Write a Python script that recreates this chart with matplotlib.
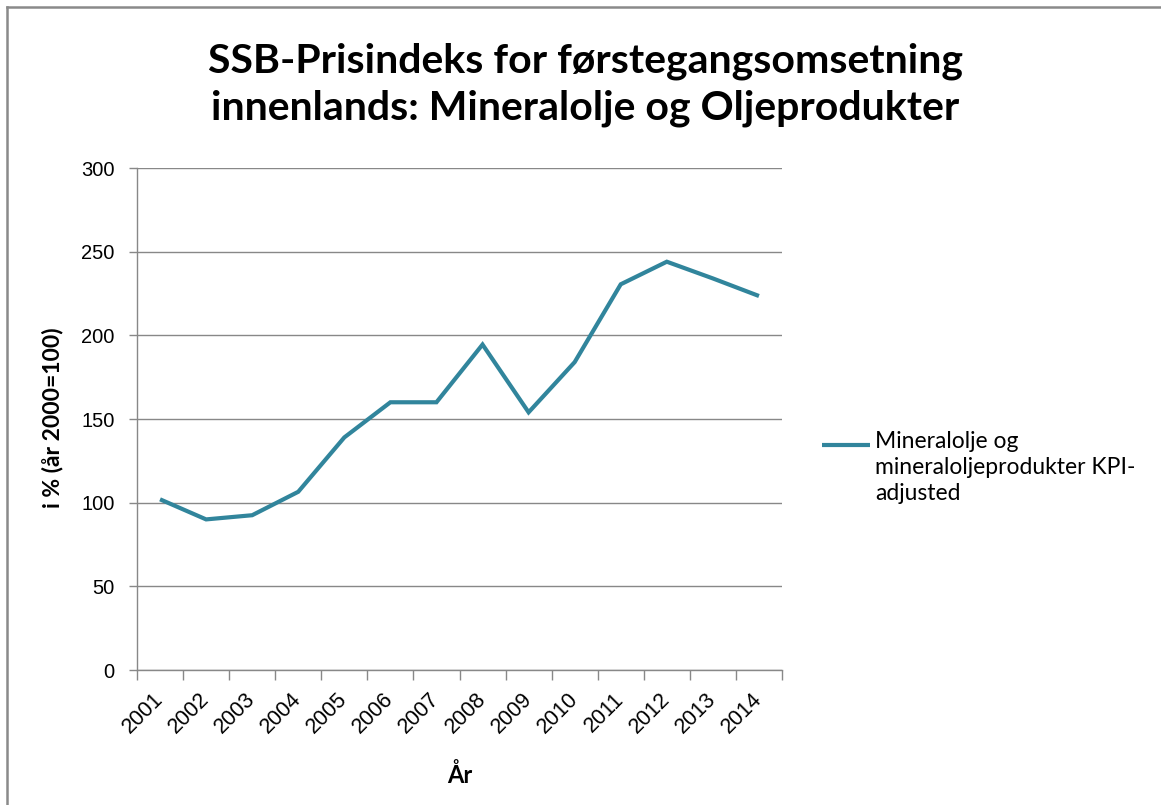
import matplotlib
matplotlib.use("Agg")
import matplotlib.pyplot as plt
from matplotlib.lines import Line2D

# data
years = ["2001", "2002", "2003", "2004", "2005", "2006", "2007",
         "2008", "2009", "2010", "2011", "2012", "2013", "2014"]
values = [102, 90, 92.5, 106.5, 139, 160, 160,
          194.5, 154, 184, 230.5, 244, 234, 223.5]
y_ticks = [0, 50, 100, 150, 200, 250, 300]
series_label = "Mineralolje og\nmineraloljeprodukter KPI-\nadjusted"

LINE = "#31859C"
GRID = "#888888"
TXT = "#000000"
TICKFONT = ["Liberation Sans", "DejaVu Sans"]
BOLDFONT = ["Lato", "DejaVu Sans"]

W, H = 1161, 805
fig = plt.figure(figsize=(W / 100, H / 100), dpi=100)
ax = fig.add_axes([137 / W, 1 - 670 / H, (782 - 137) / W, (670 - 168) / H])

x = list(range(len(years)))
ax.plot(x, values, color=LINE, linewidth=3.0, solid_joinstyle="miter",
        solid_capstyle="butt", zorder=3)

ax.set_xlim(-0.5, len(years) - 0.5)
ax.set_ylim(0, 300)
ax.set_yticks(y_ticks)
ax.set_yticklabels([str(v) for v in y_ticks], family=TICKFONT, fontsize=14.5, color=TXT)
ax.yaxis.grid(True, color=GRID, linewidth=1.0)
ax.set_axisbelow(True)

# category ticks between categories, labels centred on categories
ax.set_xticks([i - 0.5 for i in range(len(years) + 1)])
ax.set_xticklabels([])
ax.set_xticks(x, minor=True)
ax.set_xticklabels(years, minor=True, rotation=45, ha="right", va="center",
                   rotation_mode="anchor", family=TICKFONT, fontsize=15.5, color=TXT)
ax.tick_params(axis="x", which="major", length=7, width=1, color=GRID, direction="out")
ax.tick_params(axis="x", which="minor", length=0, pad=19)
ax.tick_params(axis="y", length=6, width=1, color=GRID, direction="out", pad=10)

for s in ["top", "right"]:
    ax.spines[s].set_visible(False)
for s in ["left", "bottom"]:
    ax.spines[s].set_color(GRID)
    ax.spines[s].set_linewidth(1.0)

# titles and axis labels
fig.text(585 / W, 1 - 85 / H,
         "SSB-Prisindeks for førstegangsomsetning\ninnenlands: Mineralolje og Oljeprodukter",
         ha="center", va="center", family=BOLDFONT, fontweight="bold",
         fontsize=29.5, linespacing=1.33, color=TXT)
fig.text(53 / W, 1 - 418 / H, "i % (år 2000=100)", rotation=90,
         ha="center", va="center", family=BOLDFONT, fontweight="bold", fontsize=16.5, color=TXT)
fig.text(460 / W, 1 - 775 / H, "År", ha="center", va="center",
         family=BOLDFONT, fontweight="bold", fontsize=17, color=TXT)

# legend: key aligned with the first text line, as in the spreadsheet chart
fig.add_artist(Line2D([822 / W, 870 / W], [1 - 445 / H, 1 - 445 / H],
                      transform=fig.transFigure, color=LINE, linewidth=3.0,
                      solid_capstyle="butt"))
fig.text(875 / W, 1 - 431 / H, series_label, ha="left", va="top",
         family=["Lato", "DejaVu Sans"], fontsize=16.5, linespacing=1.28, color=TXT)

# chart border (top and left edges visible)
fig.add_artist(Line2D([7 / W, 1], [1 - 7 / H, 1 - 7 / H],
                      transform=fig.transFigure, color="#8a8a8a", linewidth=1.8))
fig.add_artist(Line2D([7 / W, 7 / W], [0, 1 - 7 / H],
                      transform=fig.transFigure, color="#8a8a8a", linewidth=1.8))

fig.savefig("out.png", dpi=100, facecolor="white")
